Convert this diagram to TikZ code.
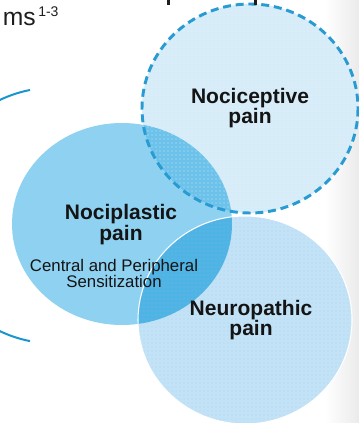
\documentclass[tikz,border=0pt]{standalone}
\usepackage{fontspec}
\setmainfont{Liberation Sans}
\usetikzlibrary{patterns}
\definecolor{plast}{RGB}{142,209,240}
\definecolor{neuro}{RGB}{194,227,246}
\definecolor{nocic}{RGB}{214,236,248}
\definecolor{ovneuro}{RGB}{78,180,228}
\definecolor{ovnocic}{RGB}{108,194,234}
\definecolor{dashblue}{RGB}{40,155,210}
\definecolor{arcblue}{RGB}{25,150,205}
\definecolor{ink}{RGB}{20,20,20}
\definecolor{titleink}{RGB}{30,30,30}
\tikzset{
  boldlbl/.style={font=\fontsize{15.75pt}{15pt}\selectfont\bfseries, text=ink, align=center, anchor=base, inner sep=0pt},
  smalllbl/.style={font=\fontsize{12.6pt}{12pt}\selectfont, text=ink, align=center, anchor=base, inner sep=0pt},
  dashring/.style={draw=dashblue, line width=2.2pt, dash pattern=on 6pt off 3.6pt},
  bracketarc/.style={draw=arcblue, line width=1.5pt},
  texture/.style={pattern=dots, pattern color=#1},
}
\begin{document}
\begin{tikzpicture}[x=0.75pt,y=-0.75pt]
\useasboundingbox (0,0) rectangle (359,423);
\clip (0,0) rectangle (359,423);
\fill[white] (0,0) rectangle (359,423);
\shade[left color=white, right color=black!8] (325,0) rectangle (359,423);
% outer bracket arc
\draw[bracketarc] (30,90) arc [start angle=258.8, end angle=101.2, radius=128];
% nociplastic
\fill[plast] (122,224) ellipse [x radius=110, y radius=101];
% neuropathic
\fill[neuro] (245,320) ellipse [x radius=107, y radius=104];
\begin{scope}
  \clip (122,224) ellipse [x radius=110, y radius=101];
  \fill[ovneuro] (245,320) ellipse [x radius=107, y radius=104];
\end{scope}
\fill[texture=blue!30!white, opacity=0.5] (245,320) ellipse [x radius=107, y radius=104];
\draw[white, line width=0.8pt] (245,320) ellipse [x radius=107, y radius=104];
% nociceptive
\fill[nocic] (250,108.5) ellipse [x radius=108, y radius=104.5];
\begin{scope}
  \clip (122,224) ellipse [x radius=110, y radius=101];
  \fill[ovnocic] (250,108.5) ellipse [x radius=108, y radius=104.5];
\end{scope}
\fill[texture=white, opacity=0.6] (250,108.5) ellipse [x radius=108, y radius=104.5];
\draw[dashring] (250,108.5) ellipse [x radius=108, y radius=104.5];
% title fragments
\fill[titleink] (167,0) rectangle (169.5,5);
\fill[titleink] (254,0) rectangle (256.5,5);
\node[font=\fontsize{18.5pt}{20pt}\selectfont, text=titleink, anchor=base east, inner sep=0pt] (ms) at (36,26) {ms};
\node[font=\fontsize{10.5pt}{12pt}\selectfont, text=titleink, anchor=base west, inner sep=0pt] (sup) at (38,17) {1-3};
% labels (anchor base = last line's baseline)
\node[boldlbl] (nc) at (250,124) {Nociceptive\\pain};
\node[boldlbl] (np) at (121,240) {Nociplastic\\pain};
\node[smalllbl] (cs) at (114,287) {Central and Peripheral\\Sensitization};
\node[boldlbl] (nu) at (251,335) {Neuropathic\\pain};
\end{tikzpicture}
\end{document}
